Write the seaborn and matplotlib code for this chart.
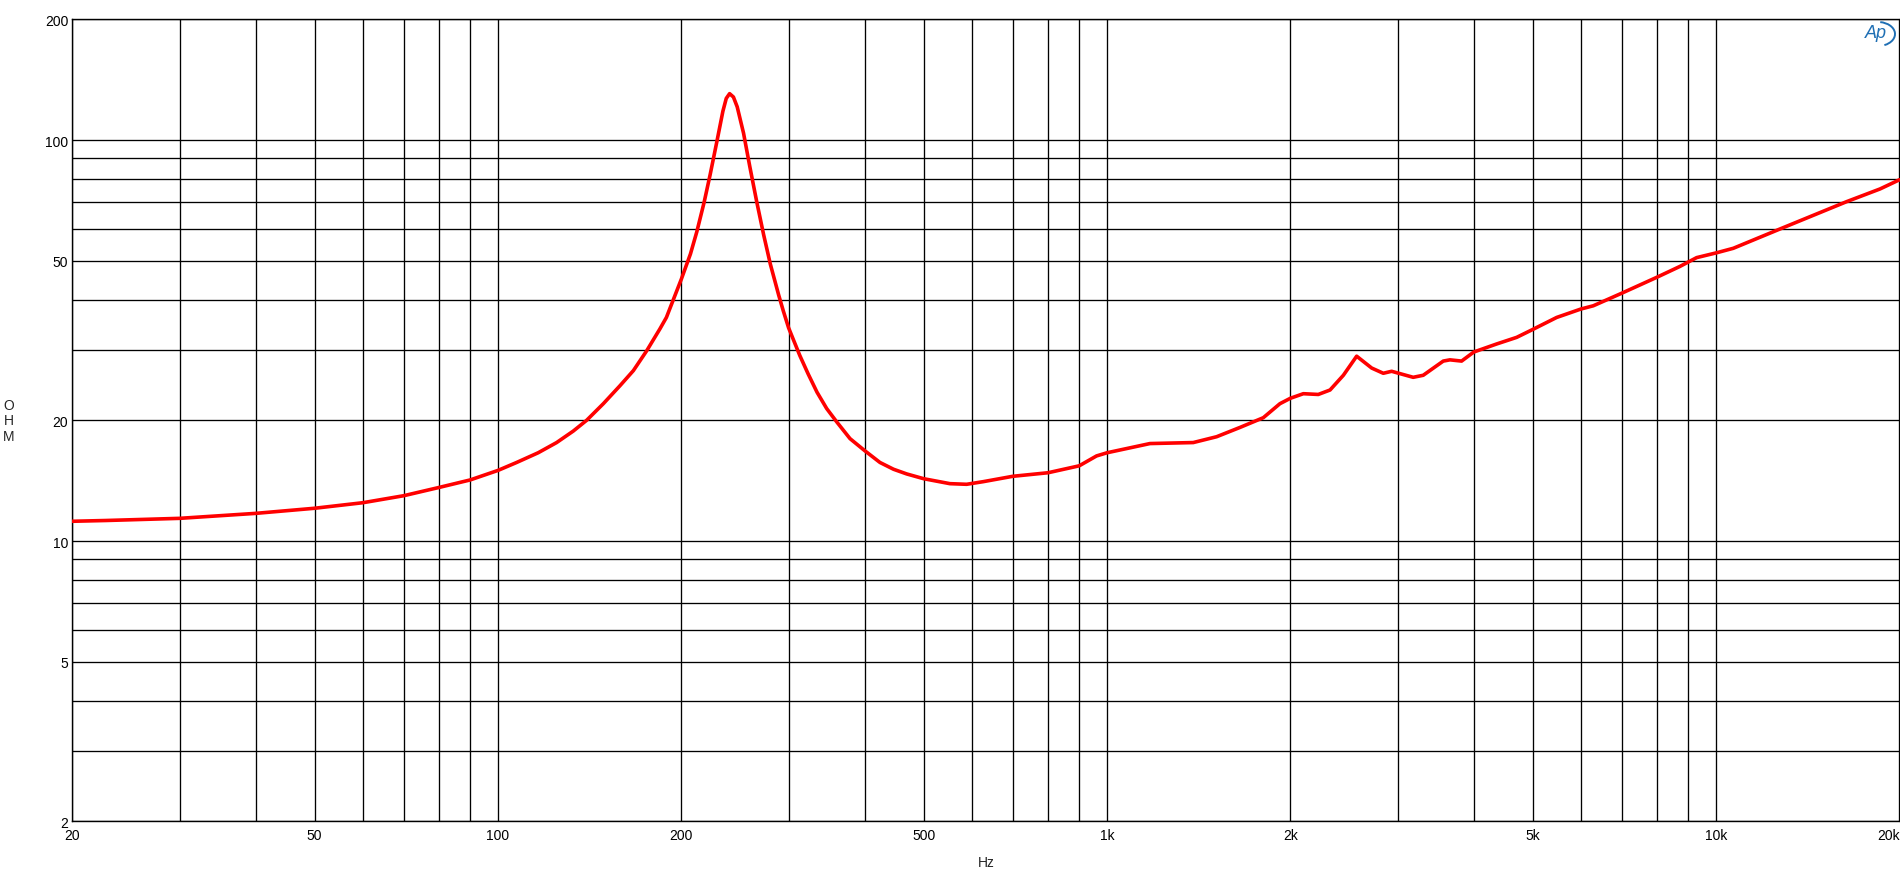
import numpy as np
import pandas as pd
import matplotlib
matplotlib.use("Agg")
import matplotlib.pyplot as plt
import seaborn as sns
from matplotlib.ticker import FixedLocator, NullFormatter
from matplotlib.patches import Arc

# impedance curve
freq_hz = [20, 22.7, 30, 40, 50, 60, 70, 80, 90, 100, 107.3, 116.4, 124.8, 132.9,
           139.8, 148.9, 158.6, 166.8, 175.4, 184.4, 189, 200, 207, 212, 218, 223,
           229, 234, 237, 240, 243.5, 247, 253, 259, 266, 273, 280, 289, 294, 300,
           313, 323, 334, 346.4, 360, 378.4, 400, 423.7, 446, 468.7, 500, 552, 588,
           626, 700, 800, 900, 961, 1000, 1176, 1385, 1513, 1653, 1805, 1922, 2000,
           2100, 2222, 2323, 2443, 2569, 2719, 2841, 2932, 3181, 3304, 3564, 3655,
           3820, 4000, 4361, 4704, 5000, 5472, 6000, 6284, 7000, 8000, 8722, 9289,
           10000, 10670, 12730, 16380, 18580, 20000]
impedance_ohm = [11.2, 11.25, 11.39, 11.72, 12.07, 12.46, 12.97, 13.6, 14.2, 15.0,
                 15.7, 16.6, 17.6, 18.8, 20.0, 22.0, 24.4, 26.6, 29.8, 33.8, 36.1,
                 45.0, 52.0, 59.0, 70.0, 82.0, 100.0, 118.0, 127.0, 130.5, 128.0,
                 121.0, 104.0, 86.0, 70.0, 58.0, 49.0, 41.0, 37.5, 34.0, 29.0, 26.1,
                 23.5, 21.4, 19.8, 18.0, 16.8, 15.7, 15.1, 14.7, 14.3, 13.9, 13.85,
                 14.06, 14.5, 14.8, 15.4, 16.3, 16.6, 17.5, 17.6, 18.2, 19.2, 20.3,
                 22.0, 22.7, 23.3, 23.2, 23.8, 25.9, 28.9, 27.0, 26.2, 26.5, 25.6,
                 25.9, 28.1, 28.3, 28.1, 29.6, 31.0, 32.2, 33.7, 36.1, 37.9, 38.6,
                 41.5, 45.5, 48.4, 50.9, 52.3, 53.7, 60.0, 70.2, 75.5, 79.6]

x_major = [20, 50, 100, 200, 500, 1000, 2000, 5000, 10000, 20000]
x_labels = ["20", "50", "100", "200", "500", "1k", "2k", "5k", "10k", "20k"]
x_minor = [30, 40, 60, 70, 80, 90, 300, 400, 600, 700, 800, 900,
           3000, 4000, 6000, 7000, 8000, 9000]
y_major = [2, 5, 10, 20, 50, 100, 200]
y_labels = ["2", "5", "10", "20", "50", "100", "200"]
y_minor = [3, 4, 6, 7, 8, 9, 30, 40, 60, 70, 80, 90]

df = pd.DataFrame({"Hz": freq_hz, "OHM": impedance_ohm})

sns.set_style("white")
plt.rcParams["font.family"] = ["Liberation Sans", "DejaVu Sans"]

fig = plt.figure(figsize=(19, 8.87), dpi=100)
ax = fig.add_axes([72.3 / 1900, 1 - 822.3 / 887, (1899.5 - 72.3) / 1900, (822.3 - 20.3) / 887])

sns.lineplot(data=df, x="Hz", y="OHM", ax=ax, color="#ff0000", linewidth=2.6,
             sort=False, zorder=3, solid_joinstyle="round")

ax.set_xscale("log")
ax.set_yscale("log")
ax.set_xlim(20, 20000)
ax.set_ylim(2, 200)

ax.xaxis.set_major_locator(FixedLocator(x_major))
ax.xaxis.set_minor_locator(FixedLocator(x_minor))
ax.set_xticklabels(x_labels)
ax.xaxis.set_minor_formatter(NullFormatter())
ax.yaxis.set_major_locator(FixedLocator(y_major))
ax.yaxis.set_minor_locator(FixedLocator(y_minor))
ax.set_yticklabels(y_labels)
ax.yaxis.set_minor_formatter(NullFormatter())
ax.get_xticklabels()[-1].set_horizontalalignment("right")

ax.grid(which="both", color="black", linewidth=0.95)
ax.tick_params(which="both", length=0, labelsize=10, colors="black")
ax.tick_params(axis="x", pad=5)
ax.tick_params(axis="y", pad=3)
for s in ax.spines.values():
    s.set_color("black")
    s.set_linewidth(1.0)

ax.set_xlabel("Hz", fontsize=10)
ax.xaxis.set_label_coords(0.5, -0.042)
ax.set_ylabel("O\nH\nM", fontsize=10, rotation=0, linespacing=1.15,
              ha="center", va="center")
ax.yaxis.set_label_coords(-0.0346, 0.5)

# AP logo, top right
ax.text(1876 / 1900, 1 - 33 / 887, "Ap", transform=fig.transFigure, fontsize=13,
        style="italic", color="#1f6fb4", ha="center", va="center")
fig.patches.append(Arc((1878 / 1900, 1 - 35 / 887), 34 / 1900, 24 / 887,
                       theta1=-75, theta2=85, color="#1f6fb4", linewidth=1.4,
                       transform=fig.transFigure))

fig.savefig("out.png", dpi=100)
